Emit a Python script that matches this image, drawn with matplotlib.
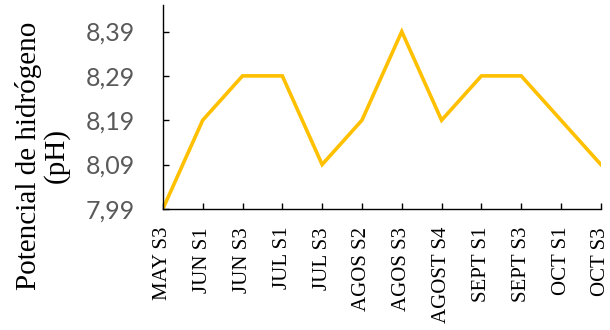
import matplotlib
matplotlib.use("Agg")
import matplotlib.pyplot as plt

categories = ["MAY S3", "JUN S1", "JUN S3", "JUL S1", "JUL S3", "AGOS S2",
              "AGOS S3", "AGOST S4", "SEPT S1", "SEPT S3", "OCT S1", "OCT S3"]
ph_values = [7.99, 8.19, 8.29, 8.29, 8.09, 8.19, 8.39, 8.19, 8.29, 8.29, 8.19, 8.09]
y_ticks = [7.99, 8.09, 8.19, 8.29, 8.39]
y_tick_labels = ["7,99", "8,09", "8,19", "8,29", "8,39"]

fig = plt.figure(figsize=(6.1, 3.3), dpi=100)
ax = fig.add_axes([0.267, 0.367, 0.718, 0.618])

x = list(range(len(categories)))
ax.plot(x, ph_values, color="#FFC000", linewidth=2.6, solid_joinstyle="miter")

ax.set_xlim(0, len(categories) - 1)
ax.set_ylim(7.99, 8.45)
ax.set_yticks(y_ticks)
ax.set_yticklabels(y_tick_labels, fontfamily="Lato", fontsize=18, color="#595959")
ax.set_xticks(x)
ax.set_xticklabels(categories, rotation=90, fontfamily="Liberation Serif",
                   fontsize=15, color="black")

ax.tick_params(axis="both", direction="in", length=4, width=1, color="black")
ax.tick_params(axis="y", pad=20)
ax.tick_params(axis="x", pad=13)

for side in ("top", "right"):
    ax.spines[side].set_visible(False)
for side in ("left", "bottom"):
    ax.spines[side].set_linewidth(1)
    ax.spines[side].set_color("black")

fig.text(42 / 610, 1 - 156 / 330, "Potencial de hidrógeno\n(pH)",
         rotation=90, ha="center", va="center", multialignment="center",
         fontfamily="Liberation Serif", fontsize=21, color="black",
         linespacing=1.05)

fig.savefig("out.png", dpi=100)
